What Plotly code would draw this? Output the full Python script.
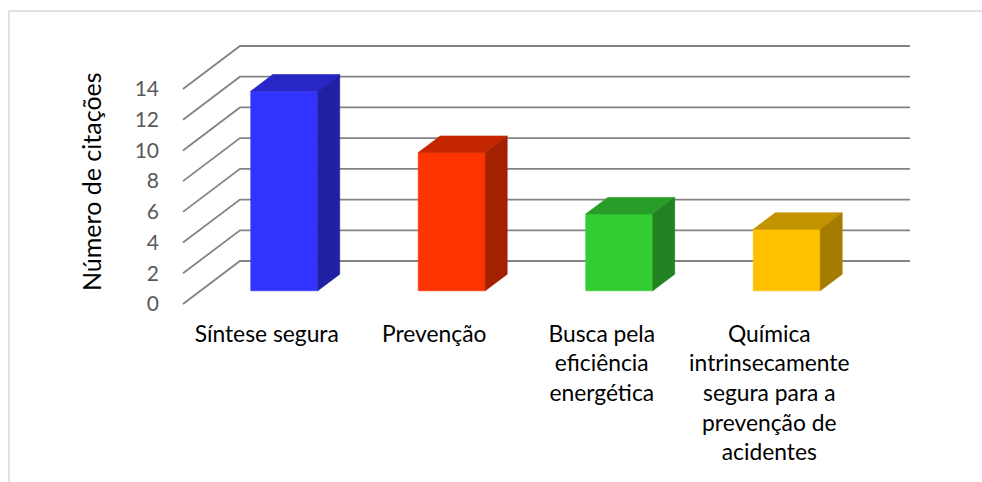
import plotly.graph_objects as go

# --- data ---------------------------------------------------------------
categorias = [
    "Síntese segura",
    "Prevenção",
    "Busca pela eficiência energética",
    "Química intrinsecamente segura para a prevenção de acidentes",
]
rotulos = [
    "Síntese segura",
    "Prevenção",
    "Busca pela<br>eficiência<br>energética",
    "Química<br>intrinsecamente<br>segura para a<br>prevenção de<br>acidentes",
]
valores = [13, 9, 5, 4]
ticks_y = [0, 2, 4, 6, 8, 10, 12, 14]

cor_frente = ["#3333FF", "#FF3300", "#33CC33", "#FFC000"]
cor_topo = ["#2727C6", "#C42700", "#289E28", "#C49400"]
cor_lado = ["#2020A4", "#A32100", "#218221", "#A47D00"]

# --- oblique projection parameters (data units) -------------------------
DX = 0.34      # horizontal shift of the full depth, in category units
DY = 2.80      # vertical shift of the full depth, in value units
T0, T1 = 0.307, 0.693   # bar front / back depth fractions
LARG = 0.40    # bar width, in category units

FONTE = "Lato"

fig = go.Figure()

# back wall + side wall gridlines
for v in ticks_y:
    fig.add_trace(go.Scatter(
        x=[0, DX, len(categorias) + DX],
        y=[v, v + DY, v + DY],
        mode="lines",
        line=dict(color="#838383", width=1.8),
        hoverinfo="skip",
        showlegend=False,
    ))


def face(xs, ys, cor, nome):
    fig.add_trace(go.Scatter(
        x=xs + [xs[0]], y=ys + [ys[0]],
        mode="lines", fill="toself",
        fillcolor=cor, line=dict(color=cor, width=0.6),
        name=nome, hoverinfo="skip", showlegend=False,
    ))


for i, (cat, val) in enumerate(zip(categorias, valores)):
    x0 = i + 0.5 - LARG / 2
    x1 = i + 0.5 + LARG / 2
    # front face
    fx0, fx1 = x0 + DX * T0, x1 + DX * T0
    fb, ft = DY * T0, val + DY * T0
    # back face
    bx0, bx1 = x0 + DX * T1, x1 + DX * T1
    bb, bt = DY * T1, val + DY * T1
    face([fx0, fx1, fx1, fx0], [fb, fb, ft, ft], cor_frente[i], cat)
    face([fx0, fx1, bx1, bx0], [ft, ft, bt, bt], cor_topo[i], cat)
    face([fx1, bx1, bx1, fx1], [fb, bb, bt, ft], cor_lado[i], cat)

# --- layout ---------------------------------------------------------------
W, H = 982, 482
ML, MR, MT, MB = 165, 40, 20, 172
px_cat = 167.5          # pixels per category
px_val = 15.357         # pixels per value unit
x_front0 = 183          # pixel of category origin
y_front0 = 304          # pixel of value origin
plot_w = W - ML - MR
plot_h = H - MT - MB

x_range = [(ML - x_front0) / px_cat, (ML + plot_w - x_front0) / px_cat]
y_range = [(y_front0 - (MT + plot_h)) / px_val, (y_front0 - MT) / px_val]


def paper_x(px):
    return (px - ML) / plot_w


def paper_y(py):
    return (MT + plot_h - py) / plot_h


fig.update_layout(
    width=W, height=H,
    margin=dict(l=ML, r=MR, t=MT, b=MB),
    paper_bgcolor="white", plot_bgcolor="white",
    font=dict(family=FONTE, color="#000000"),
    xaxis=dict(
        range=x_range, showgrid=False, zeroline=False, showline=False,
        tickmode="array", tickvals=[i + 0.5 for i in range(len(rotulos))],
        ticktext=rotulos, ticks="", ticklabelstandoff=8,
        tickfont=dict(family=FONTE, size=22.8, color="#000000"),
    ),
    yaxis=dict(
        range=y_range, showgrid=False, zeroline=False, showline=False,
        tickmode="array", tickvals=ticks_y,
        ticktext=[str(t) for t in ticks_y], ticks="", ticklabelstandoff=5,
        tickfont=dict(family=FONTE, size=21, color="#595959"),
    ),
    annotations=[dict(
        text="Número de citações", textangle=-90,
        xref="paper", yref="paper",
        x=paper_x(91), y=paper_y(182),
        xanchor="center", yanchor="middle", showarrow=False,
        font=dict(family=FONTE, size=25, color="#000000"),
    )],
    shapes=[dict(
        type="rect", xref="paper", yref="paper", layer="below",
        x0=paper_x(9), x1=paper_x(W + 10),
        y0=paper_y(H + 10), y1=paper_y(11),
        line=dict(color="#D9D9D9", width=1.5), fillcolor="rgba(0,0,0,0)",
    )],
)

fig.write_html("out.html")
